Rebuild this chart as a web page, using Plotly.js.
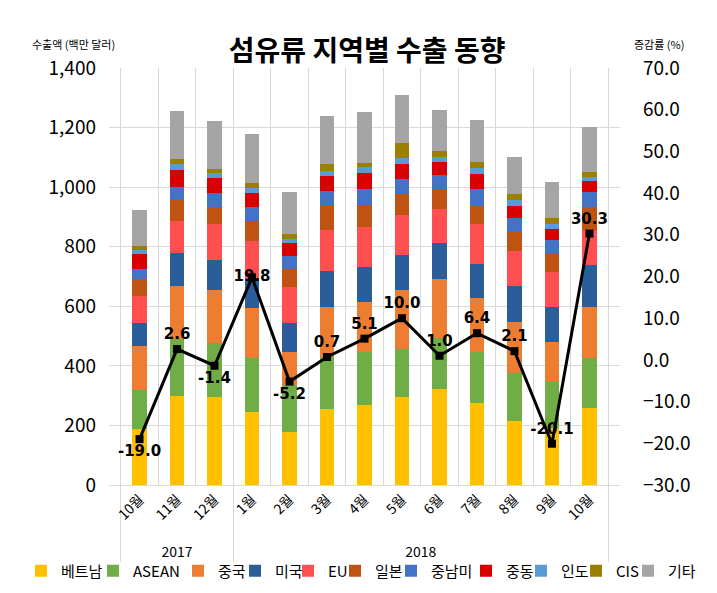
<!DOCTYPE html>
<html>
<head>
<meta charset="utf-8">
<script src="https://cdn.plot.ly/plotly-3.0.1.min.js"></script>
<style>
html,body{margin:0;padding:0;background:#fff;}
#chart{width:717px;height:593px;}
</style>
</head>
<body>
<div id="chart"></div>
<script>
// ---- data ----
const years  = ['2017','2017','2017','2018','2018','2018','2018','2018','2018','2018','2018','2018','2018'];
const months = ['10월','11월','12월','1월','2월','3월','4월','5월','6월','7월','8월','9월','10월'];

const vietnam  = [187, 299, 297, 246, 179, 254, 269, 297, 322, 276, 216, 193, 257];
const asean    = [132, 190, 179, 181, 157, 177, 179, 158, 170, 172, 160, 154, 168];
const china    = [148, 180, 179, 166, 112, 165, 167, 200, 198, 180, 172, 134, 174];
const usa      = [ 78, 109, 100,  97,  95, 122, 116, 117, 123, 114, 120, 118, 139];
const eu       = [ 89, 108, 120, 130, 123, 138, 136, 134, 114, 134, 117, 117, 118];
const japan    = [ 56,  71,  57,  67,  58,  81,  73,  70,  63,  62,  63,  64,  78];
const latam    = [ 35,  42,  49,  45,  45,  50,  53,  51,  51,  56,  49,  42,  51];
const mideast  = [ 50,  58,  49,  49,  42,  50,  53,  51,  44,  50,  40,  36,  34];
const india    = [ 14,  21,  17,  15,  14,  17,  20,  19,  17,  19,  20,  18,  14];
const cis      = [ 13,  16,  15,  17,  18,  23,  16,  50,  20,  22,  20,  19,  19];
const others   = [121, 162, 160, 165, 140, 162, 169, 162, 137, 140, 123, 123, 151];

const growth   = [-19.0, 2.6, -1.4, 19.8, -5.2, 0.7, 5.1, 10.0, 1.0, 6.4, 2.1, -20.1, 30.3];

const seriesNames = ['베트남','ASEAN','중국','미국','EU','일본','중남미','중동','인도','CIS','기타'];
const seriesData  = [vietnam, asean, china, usa, eu, japan, latam, mideast, india, cis, others];

// ---- styles ----
const colors = ['#FFC000','#70AD47','#ED7D31','#2A5E9B','#FF4F50','#BF5312','#4472C4','#D90000','#5B9BD5','#9C7F00','#A5A5A5'];
const legendTextStart = [59, 131, 216, 273, 326, 373, 429, 504, 559, 614, 666];
const labelPos = ['bottom center','top center','bottom center','middle center','bottom center','top center',
                  'top center','top center','top center','top center','top center','top center','top center'];

// keep the two "10월" categories distinct (2018's gets an invisible zero-width mark)
const seen = {};
const innerCats = months.map(m => { const k = seen[m] ? m + '\u200b' : m; seen[m] = true; return k; });
const xCats = [years, innerCats];

const FONT = '"Noto Sans CJK KR", "Noto Sans", sans-serif';
const traces = [];
const layout = {
  width: 717, height: 593,
  margin: {l: 109, r: 97, t: 68, b: 108, pad: 0},
  paper_bgcolor: '#fff', plot_bgcolor: '#fff',
  barmode: 'stack', bargap: 0.62,
  font: {family: FONT, color: '#000', size: 16},
  title: {text: '<b>섬유류 지역별 수출 동향</b>', font: {family: FONT, size: 28, color: '#000'},
          x: 0.512, xanchor: 'center', xref: 'container', y: 0.914, yanchor: 'middle', yref: 'container'},
  xaxis: {type: 'multicategory', tickangle: -45, showgrid: true, gridcolor: '#D9D9D9', gridwidth: 1,
          showline: true, linecolor: '#D9D9D9', linewidth: 1, ticks: '', tickfont: {family: FONT, size: 14},
          showdividers: true, dividercolor: '#D9D9D9', dividerwidth: 1},
  yaxis: {range: [0, 1400], dtick: 200, tickformat: ',', showgrid: true, gridcolor: '#D9D9D9',
          zeroline: false, ticks: '', tickfont: {family: FONT, size: 19}, ticklabelstandoff: 12, fixedrange: true},
  yaxis2: {range: [-30, 70], dtick: 10, tickformat: '.1f', overlaying: 'y', side: 'right', showgrid: false,
           zeroline: false, ticks: '', tickfont: {family: FONT, size: 19}, ticklabelstandoff: 22},
  annotations: [
    {text: '수출액 (백만 달러)', xref: 'paper', yref: 'paper', x: (73-109)/511, y: (485-44)/417,
     xanchor: 'center', yanchor: 'middle', showarrow: false, font: {family: FONT, size: 11}},
    {text: '증감률 (%)', xref: 'paper', yref: 'paper', x: (659-109)/511, y: (485-44)/417,
     xanchor: 'center', yanchor: 'middle', showarrow: false, font: {family: FONT, size: 11}}
  ],
  showlegend: true
};

seriesNames.forEach((name, i) => {
  const lg = i === 0 ? 'legend' : 'legend' + (i + 1);
  traces.push({
    type: 'bar', name: name, x: xCats, y: seriesData[i],
    marker: {color: colors[i], line: {width: 0}}, legend: lg, hoverinfo: 'name+y'
  });
  layout[lg] = {orientation: 'h', xref: 'container', yref: 'container',
                x: (legendTextStart[i] - 38) / 717, xanchor: 'left',
                y: 1 - 571 / 593, yanchor: 'middle', bgcolor: 'rgba(0,0,0,0)',
                font: {family: FONT, size: 15, color: '#000'}, itemwidth: 30};
});

traces.push({
  type: 'scatter', mode: 'lines+markers+text', name: '증감률', x: xCats, y: growth,
  yaxis: 'y2', showlegend: false,
  line: {color: '#000', width: 3}, marker: {symbol: 'square', size: 8, color: '#000'},
  text: growth.map(v => v.toFixed(1)), textposition: labelPos,
  textfont: {family: '"DejaVu Sans", sans-serif', size: 15, color: '#000', weight: 'bold'}
});

Plotly.newPlot('chart', traces, layout, {displayModeBar: false, staticPlot: true});
</script>
</body>
</html>
